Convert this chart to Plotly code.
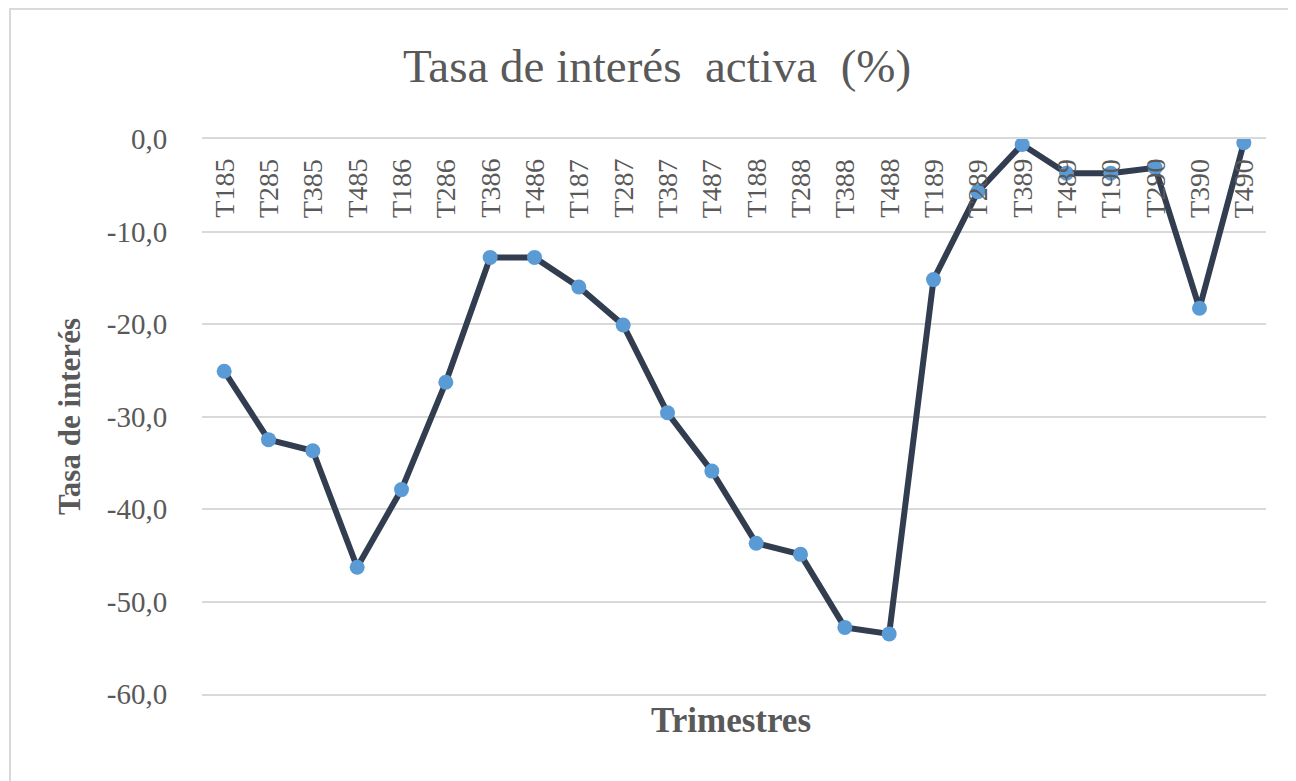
import plotly.graph_objects as go

# Trimestres y tasa de interés activa (%)
trimestres = ["T185", "T285", "T385", "T485", "T186", "T286", "T386", "T486",
              "T187", "T287", "T387", "T487", "T188", "T288", "T388", "T488",
              "T189", "T289", "T389", "T489", "T190", "T290", "T390", "T490"]
tasa = [-25.1, -32.5, -33.7, -46.3, -37.9, -26.3, -12.8, -12.8,
        -16.0, -20.1, -29.6, -35.9, -43.7, -44.9, -52.8, -53.5,
        -15.2, -5.7, -0.6, -3.7, -3.7, -3.1, -18.3, -0.4]

y_ticks = [0, -10, -20, -30, -40, -50, -60]
y_ticktext = ["0,0", "-10,0", "-20,0", "-30,0", "-40,0", "-50,0", "-60,0"]

# the page body adds an 8px offset, so the figure is laid out in page px - 8
OFF = 8
W, H = 1296 - OFF, 781 - OFF
M_L, M_R, M_T, M_B = 202 - OFF, 30, 139 - OFF, 87
SERIF = "Liberation Serif, Times New Roman, serif"
GRAY = "#595959"
GRID = "#D9D9D9"

pw = W - M_L - M_R
ph = H - M_T - M_B

fig = go.Figure()
fig.add_trace(go.Scatter(
    x=trimestres,
    y=tasa,
    mode="lines+markers",
    line=dict(color="#323E50", width=6),
    marker=dict(color="#5B9BD5", size=15),
    showlegend=False,
))

# category labels sit just under the 0 line (Excel-style axis crossing at 0)
for t in trimestres:
    fig.add_annotation(
        x=t, y=0, xref="x", yref="y",
        text=t, textangle=-90,
        xanchor="center", yanchor="top", yshift=-18,
        showarrow=False,
        font=dict(size=28, color=GRAY, family=SERIF),
    )

# frame around the chart area
fig.add_shape(type="rect", xref="paper", yref="paper",
              x0=(2 - M_L) / pw, x1=(W + 6 - M_L) / pw,
              y0=-(H + 6 - M_T - ph) / ph, y1=1 + (M_T - 1) / ph,
              line=dict(color=GRID, width=2), layer="below")

fig.update_layout(
    width=W,
    height=H,
    margin=dict(l=M_L, r=M_R, t=M_T, b=M_B),
    paper_bgcolor="white",
    plot_bgcolor="white",
    font=dict(family=SERIF, color=GRAY),
    title=dict(
        text="Tasa de interés  activa  (%)",
        x=(657 - OFF) / W, xanchor="center",
        y=1 - (66 - OFF) / H, yanchor="middle",
        font=dict(size=47, color=GRAY, family=SERIF),
    ),
    xaxis=dict(
        type="category",
        range=[-0.5, len(trimestres) - 0.5],
        showticklabels=False,
        showgrid=False,
        showline=True,
        linecolor=GRID,
        linewidth=1.5,
        mirror=True,
        ticks="",
        automargin=False,
    ),
    yaxis=dict(
        range=[-60, 0],
        tickvals=y_ticks,
        ticktext=y_ticktext,
        tickfont=dict(size=29, color=GRAY, family=SERIF),
        ticks="outside",
        ticklen=28,
        tickcolor="rgba(0,0,0,0)",
        showgrid=True,
        gridcolor=GRID,
        gridwidth=1.5,
        zeroline=False,
        showline=False,
        automargin=False,
        title=dict(text="<b>Tasa de interés</b>",
                   font=dict(size=31, color=GRAY, family=SERIF),
                   standoff=16),
    ),
)

fig.add_annotation(
    text="<b>Trimestres</b>",
    xref="paper", yref="paper",
    x=(731 - M_L - OFF) / pw, y=-(720 - OFF - M_T - ph) / ph,
    xanchor="center", yanchor="middle",
    showarrow=False,
    font=dict(size=35, color=GRAY, family=SERIF),
)

fig.write_html("out.html")
